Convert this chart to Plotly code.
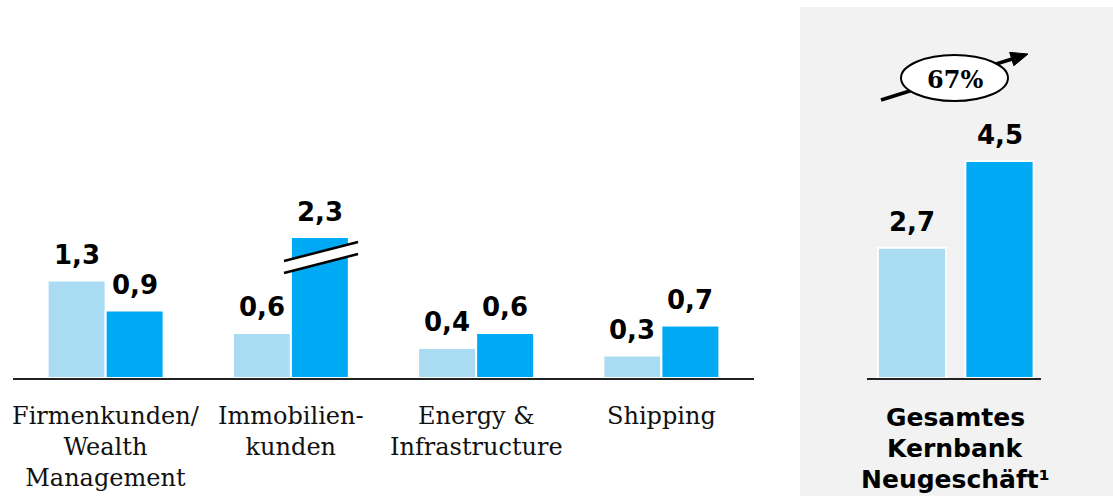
import math
import plotly.graph_objects as go

# ---- data -------------------------------------------------------------
categories = ["Firmenkunden/<br>Wealth<br>Management", "Immobilien-<br>kunden",
              "Energy &<br>Infrastructure", "Shipping"]
values_prev = [1.3, 0.6, 0.4, 0.3]
values_curr = [0.9, 2.3, 0.6, 0.7]

total_label_lines = ["Gesamtes", "Kernbank", "Neugeschäft¹"]
total_values = [2.7, 4.5]
growth_label = "67%"

# ---- styling ----------------------------------------------------------
W, H = 1113, 496
LIGHT = "#a9dcf2"
DARK = "#00a9f4"
PANEL = "#f2f2f2"
VALUE_FONT = dict(family="DejaVu Sans", size=26, color="black", weight="bold")
CAT_FONT = dict(family="DejaVu Serif", size=24, color="#111111")
TOTAL_FONT = dict(family="DejaVu Sans", size=25, color="black", weight="bold")


def fx(px):
    return px / W


def fy(py):
    return 1 - py / H


def fmt(v):
    return f"{v:.1f}".replace(".", ",")


BASE = 378              # baseline (pixel row)
LEFT_TOP = 238          # left panel is cut here (broken axis)
RIGHT_TOP = 140
LEFT_SCALE = 75.0       # px per unit, left panel
RIGHT_SCALE = 48.2      # px per unit, right panel
left_ymax = (BASE - LEFT_TOP) / LEFT_SCALE
right_ymax = (BASE - RIGHT_TOP) / RIGHT_SCALE

BARGAP = 0.374
slot = (1 - BARGAP) / 2
xs = list(range(len(categories)))

fig = go.Figure()
fig.add_trace(go.Bar(x=xs, y=values_prev, marker=dict(color=LIGHT, line=dict(color="white", width=2)),
                     xaxis="x", yaxis="y", hoverinfo="skip"))
fig.add_trace(go.Bar(x=xs, y=values_curr, marker=dict(color=DARK, line=dict(color="white", width=2)),
                     xaxis="x", yaxis="y", hoverinfo="skip"))
fig.add_trace(go.Bar(x=[0, 1], y=total_values, width=0.78,
                     marker=dict(color=[LIGHT, DARK], line=dict(color="white", width=2)),
                     xaxis="x2", yaxis="y2", hoverinfo="skip"))

annotations = []
# value labels (left panel) -- labels of cut bars sit on the cut edge
for i in xs:
    for v, off in ((values_prev[i], -slot / 2), (values_curr[i], slot / 2)):
        annotations.append(dict(x=i + off, y=min(v, left_ymax), xref="x", yref="y",
                                text=fmt(v), showarrow=False, xanchor="center",
                                yanchor="bottom", yshift=9, font=VALUE_FONT))
    annotations.append(dict(x=i, y=fy(400), xref="x", yref="paper", text=categories[i],
                            showarrow=False, xanchor="center", yanchor="top",
                            font=CAT_FONT, align="center"))

for j, v in enumerate(total_values):
    annotations.append(dict(x=j, y=v, xref="x2", yref="y2", text=fmt(v), showarrow=False,
                            xanchor="center", yanchor="bottom", yshift=9, font=VALUE_FONT))
for k, line in enumerate(total_label_lines):
    annotations.append(dict(x=0.5, y=fy(417 + 31 * k), xref="x2", yref="paper", text=line,
                            showarrow=False, xanchor="center", yanchor="middle",
                            font=TOTAL_FONT))
annotations.append(dict(x=fx(955), y=fy(79), xref="paper", yref="paper", text=growth_label,
                        showarrow=False, xanchor="center", yanchor="middle",
                        font=dict(family="DejaVu Serif", size=24, color="black", weight="bold")))

shapes = []
# grey background of the total panel
shapes.append(dict(type="rect", xref="paper", yref="paper", x0=fx(800), x1=1, y0=0, y1=fy(7),
                   fillcolor=PANEL, line=dict(width=0), layer="below"))

# axis-break marks on the cut bar
bx0, bx1 = 284, 358
top0, top1 = 261, 242
gap = 12
band = (f"M {fx(bx0)},{fy(top0)} L {fx(bx1)},{fy(top1)} "
        f"L {fx(bx1)},{fy(top1 + gap)} L {fx(bx0)},{fy(top0 + gap)} Z")
shapes.append(dict(type="path", xref="paper", yref="paper", path=band,
                   fillcolor="white", line=dict(width=0)))
for d in (0, gap):
    shapes.append(dict(type="line", xref="paper", yref="paper",
                       x0=fx(bx0), y0=fy(top0 + d), x1=fx(bx1), y1=fy(top1 + d),
                       line=dict(color="black", width=2.5)))

# growth arrow with ellipse (kept under the annotation text)
tail = (881, 100)
tip = (1028, 54)
dx, dy = tip[0] - tail[0], tip[1] - tail[1]
L = math.hypot(dx, dy)
ux, uy = dx / L, dy / L
px_, py_ = -uy, ux
head_len, head_half = 17, 7
bxc, byc = tip[0] - head_len * ux, tip[1] - head_len * uy
shapes.append(dict(type="line", xref="paper", yref="paper", layer="below",
                   x0=fx(tail[0]), y0=fy(tail[1]), x1=fx(bxc + 2 * ux), y1=fy(byc + 2 * uy),
                   line=dict(color="black", width=3.5)))
head = (f"M {fx(tip[0])},{fy(tip[1])} "
        f"L {fx(bxc + head_half * px_)},{fy(byc + head_half * py_)} "
        f"L {fx(bxc - head_half * px_)},{fy(byc - head_half * py_)} Z")
shapes.append(dict(type="path", xref="paper", yref="paper", path=head, layer="below",
                   fillcolor="black", line=dict(color="black", width=1)))
shapes.append(dict(type="circle", xref="paper", yref="paper", layer="below",
                   x0=fx(901), x1=fx(1008), y0=fy(101), y1=fy(55),
                   fillcolor="white", line=dict(color="black", width=2)))

# x ranges so that the category pitch matches the bar layout
left_x0, left_x1 = 13, 754
right_x0, right_x1 = 867, 1041
pitch2 = 87.5
c0 = 912

fig.update_layout(
    width=W, height=H,
    margin=dict(l=0, r=0, t=0, b=0),
    paper_bgcolor="white", plot_bgcolor="rgba(0,0,0,0)",
    barmode="group", bargap=BARGAP, bargroupgap=0,
    showlegend=False,
    xaxis=dict(domain=[fx(left_x0), fx(left_x1)], range=[-0.5, 3.5], showgrid=False,
               zeroline=False, showticklabels=False, ticks="", showline=True,
               linecolor="#222222", linewidth=2, fixedrange=True),
    yaxis=dict(domain=[fy(BASE), fy(LEFT_TOP)], range=[0, left_ymax], visible=False,
               fixedrange=True),
    xaxis2=dict(domain=[fx(right_x0), fx(right_x1)],
                range=[-(c0 - right_x0) / pitch2, (right_x1 - c0) / pitch2],
                anchor="y2", showgrid=False, zeroline=False, showticklabels=False, ticks="",
                showline=True, linecolor="#222222", linewidth=2, fixedrange=True),
    yaxis2=dict(domain=[fy(BASE), fy(RIGHT_TOP)], range=[0, right_ymax], anchor="x2",
                visible=False, fixedrange=True),
    annotations=annotations,
    shapes=shapes,
)

fig.write_html("out.html", config={"displayModeBar": False})
